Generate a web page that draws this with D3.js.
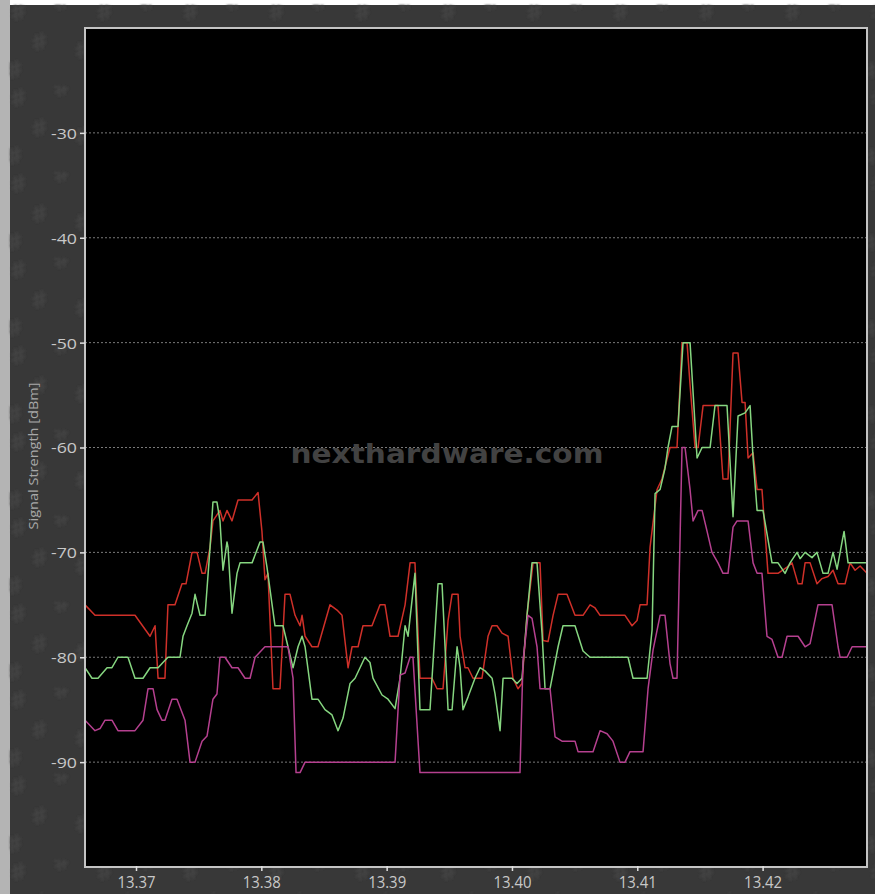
<!DOCTYPE html>
<html>
<head>
<meta charset="utf-8">
<script src="https://cdn.jsdelivr.net/npm/d3@7"></script>
<style>
  html, body { margin: 0; padding: 0; background: #ffffff; }
  svg { display: block; }
</style>
</head>
<body>
<svg id="chart" width="875" height="894"></svg>
<script>
// Frequency sweep, GHz vs. signal strength, dBm
const yTicks = [-30, -40, -50, -60, -70, -80, -90];
const xTicks = [13.37, 13.38, 13.39, 13.40, 13.41, 13.42];
const xTickLabels = ["13.37", "13.38", "13.39", "13.40", "13.41", "13.42"];
const yTitle = "Signal Strength [dBm]";
const watermark = "nexthardware.com";

// [frequency (GHz), signal (dBm)]
const redTrace = [
  [13.36593,-75],[13.36673,-76],[13.36992,-76],[13.37112,-78],[13.37152,-77],[13.37176,-82],
  [13.37231,-82],[13.37255,-75],[13.37311,-75],[13.37367,-73],[13.37399,-73],[13.37447,-70],
  [13.37487,-70],[13.37527,-72],[13.37551,-72],[13.37591,-69.5],[13.37614,-67],[13.37670,-66],
  [13.37694,-67],[13.37726,-66],[13.37766,-67],[13.37814,-65],[13.37926,-65],[13.37974,-64.3],
  [13.38005,-68],[13.38029,-72.6],[13.38053,-72],[13.38093,-83],[13.38149,-83],[13.38189,-74],
  [13.38229,-74],[13.38269,-76],[13.38309,-77],[13.38325,-76],[13.38349,-78],[13.38404,-79],
  [13.38452,-79],[13.38548,-75],[13.38604,-75.5],[13.38644,-76],[13.38692,-81],[13.38724,-79],
  [13.38772,-79],[13.38811,-77],[13.38883,-77],[13.38947,-75],[13.38987,-75],[13.39027,-78],
  [13.39091,-78],[13.39147,-75],[13.39187,-71],[13.39226,-71],[13.39266,-82],[13.39362,-82],
  [13.39402,-83],[13.39450,-83],[13.39490,-76.5],[13.39522,-74],[13.39570,-74],[13.39586,-78],
  [13.39625,-81],[13.39649,-81],[13.39689,-82],[13.39761,-82],[13.39809,-78],[13.39841,-77],
  [13.39881,-77],[13.39921,-77.7],[13.39969,-78],[13.40008,-82],[13.40048,-83],[13.40080,-82.5],
  [13.40120,-76],[13.40168,-71],[13.40224,-71],[13.40248,-78.4],[13.40288,-78.5],[13.40328,-76],
  [13.40368,-74],[13.40439,-74],[13.40503,-76],[13.40567,-76],[13.40623,-75],[13.40663,-75.3],
  [13.40703,-76],[13.40902,-76],[13.40958,-77],[13.40998,-76.5],[13.41022,-75],[13.41078,-75],
  [13.41102,-69.5],[13.41158,-64],[13.41197,-63],[13.41261,-60],[13.41317,-60],[13.41357,-50],
  [13.41397,-50],[13.41421,-54],[13.41461,-60],[13.41485,-60],[13.41525,-56],[13.41644,-56],
  [13.41684,-63],[13.41724,-63],[13.41764,-51],[13.41804,-51],[13.41836,-55.7],[13.41860,-55.7],
  [13.41884,-61],[13.41924,-60.5],[13.41956,-64],[13.41995,-64],[13.42019,-68],[13.42043,-72],
  [13.42123,-72],[13.42195,-71.4],[13.42235,-71],[13.42283,-73],[13.42315,-73],[13.42339,-71],
  [13.42379,-71],[13.42434,-73],[13.42474,-72.5],[13.42522,-72.3],[13.42562,-71.7],[13.42602,-73],
  [13.42658,-73],[13.42698,-71],[13.42738,-71.7],[13.42778,-71.3],[13.42833,-72]
];

const greenTrace = [
  [13.36593,-81],[13.36649,-82],[13.36697,-82],[13.36769,-81],[13.36808,-81],[13.36856,-80],
  [13.36936,-80],[13.36992,-82],[13.37056,-82],[13.37112,-81],[13.37176,-81],[13.37215,-80.5],
  [13.37255,-80],[13.37351,-80],[13.37375,-78],[13.37407,-77],[13.37447,-75.8],[13.37471,-74],
  [13.37511,-76],[13.37551,-76],[13.37591,-69.5],[13.37614,-65.2],[13.37646,-65.2],[13.37670,-67],
  [13.37694,-71.7],[13.37726,-69],[13.37734,-69.5],[13.37766,-75.8],[13.37806,-72],[13.37830,-71],
  [13.37926,-71],[13.37990,-69],[13.38013,-69],[13.38045,-71.4],[13.38109,-77],[13.38173,-77],
  [13.38213,-79],[13.38253,-81],[13.38293,-79],[13.38325,-78],[13.38349,-79],[13.38404,-84],
  [13.38452,-84],[13.38508,-85],[13.38564,-85.5],[13.38612,-87],[13.38652,-85.8],[13.38708,-82.5],
  [13.38748,-82],[13.38827,-80],[13.38867,-80.5],[13.38891,-82],[13.38963,-83.6],[13.39011,-84],
  [13.39067,-84.9],[13.39107,-82],[13.39147,-77],[13.39171,-78],[13.39226,-72],[13.39266,-85],
  [13.39346,-85],[13.39410,-73],[13.39442,-73],[13.39490,-85],[13.39522,-85],[13.39562,-79],
  [13.39586,-81],[13.39609,-85],[13.39649,-83.8],[13.39705,-82],[13.39745,-81],[13.39785,-81.3],
  [13.39841,-82],[13.39865,-83.5],[13.39905,-87],[13.39929,-82],[13.40000,-82],[13.40040,-82.5],
  [13.40080,-82],[13.40120,-76],[13.40160,-71],[13.40200,-71],[13.40240,-77.7],[13.40264,-83],
  [13.40304,-83],[13.40368,-79],[13.40407,-77],[13.40503,-77],[13.40567,-79.4],[13.40623,-80],
  [13.40926,-80],[13.40966,-82],[13.41078,-82],[13.41118,-77.4],[13.41142,-64.4],[13.41182,-64],
  [13.41221,-62],[13.41245,-60],[13.41277,-58],[13.41325,-58],[13.41365,-50],[13.41421,-50],
  [13.41477,-61],[13.41517,-60],[13.41581,-60],[13.41620,-56],[13.41716,-56],[13.41764,-66.6],
  [13.41804,-57],[13.41860,-56.7],[13.41900,-56],[13.41924,-61],[13.41956,-66],[13.42003,-66],
  [13.42075,-71],[13.42123,-71],[13.42179,-72],[13.42219,-71],[13.42275,-70],[13.42299,-70.6],
  [13.42339,-70],[13.42394,-70.5],[13.42434,-70],[13.42482,-72],[13.42522,-72],[13.42562,-70],
  [13.42594,-71.6],[13.42634,-69],[13.42650,-68],[13.42682,-71],[13.42833,-71]
];

const magentaTrace = [
  [13.36593,-86],[13.36673,-87],[13.36713,-86.8],[13.36753,-86],[13.36808,-86],[13.36856,-87],
  [13.36992,-87],[13.37056,-86],[13.37096,-83],[13.37136,-83],[13.37168,-85],[13.37207,-86],
  [13.37231,-86],[13.37287,-84],[13.37327,-84],[13.37391,-86],[13.37431,-90],[13.37471,-90],
  [13.37527,-88],[13.37567,-87.5],[13.37614,-84],[13.37646,-83.5],[13.37670,-80],[13.37710,-80],
  [13.37766,-81],[13.37814,-81],[13.37870,-82],[13.37910,-82],[13.37950,-80],[13.38029,-79],
  [13.38213,-79],[13.38253,-82],[13.38277,-91],[13.38309,-91],[13.38349,-90],[13.39067,-90],
  [13.39107,-81.7],[13.39147,-81.5],[13.39187,-80],[13.39210,-80],[13.39266,-91],[13.40064,-91],
  [13.40088,-80.4],[13.40128,-76],[13.40160,-76.3],[13.40200,-79],[13.40224,-83],[13.40304,-83],
  [13.40344,-87.6],[13.40399,-88],[13.40503,-88],[13.40527,-89],[13.40647,-89],[13.40703,-87],
  [13.40759,-87.3],[13.40806,-88],[13.40862,-90],[13.40902,-90],[13.40942,-89],[13.41046,-89],
  [13.41086,-83],[13.41126,-79.3],[13.41182,-76],[13.41221,-76],[13.41261,-80.6],[13.41285,-82],
  [13.41317,-82],[13.41357,-60],[13.41381,-60],[13.41421,-64],[13.41445,-67],[13.41485,-66],
  [13.41517,-66],[13.41557,-68],[13.41596,-70],[13.41644,-71],[13.41684,-72],[13.41724,-72],
  [13.41764,-67.6],[13.41796,-67],[13.41884,-67],[13.41924,-71],[13.41956,-72],[13.41995,-72],
  [13.42035,-78],[13.42075,-78.3],[13.42123,-80],[13.42155,-80],[13.42195,-78],[13.42283,-78],
  [13.42339,-79],[13.42379,-78.7],[13.42442,-75],[13.42554,-75],[13.42602,-79],[13.42618,-80],
  [13.42674,-80],[13.42714,-79],[13.42833,-79]
];

const series = [
  { name: "red", data: redTrace, color: "#cf3029" },
  { name: "green", data: greenTrace, color: "#86d680" },
  { name: "magenta", data: magentaTrace, color: "#b5408f" }
];

const W = 875, H = 894;
const plot = { left: 85, top: 28, right: 867, bottom: 867 };

const svg = d3.select("#chart");

// backdrop: light edge strip + dark panel with faint hash texture
const defs = svg.append("defs");
defs.append("filter").attr("id", "soft")
  .append("feGaussianBlur").attr("stdDeviation", 1.2);
const pat = defs.append("pattern")
  .attr("id", "hashTex")
  .attr("patternUnits", "userSpaceOnUse")
  .attr("width", 86).attr("height", 86);
const glyphs = [[12, 22], [55, 12], [33, 52], [76, 60], [8, 80]];
glyphs.forEach(([gx, gy]) => {
  pat.append("text")
    .attr("x", gx).attr("y", gy)
    .attr("transform", `rotate(-18 ${gx} ${gy})`)
    .attr("font-family", "DejaVu Sans, sans-serif")
    .attr("font-size", 22)
    .attr("font-weight", "bold")
    .attr("fill", "#434343")
    .text("#");
});

svg.append("rect").attr("x", 0).attr("y", 0).attr("width", W).attr("height", H).attr("fill", "#ffffff");
svg.append("rect").attr("x", 0).attr("y", 0).attr("width", 10).attr("height", H).attr("fill", "#b4b4b4");
svg.append("rect").attr("x", 10).attr("y", 5).attr("width", W - 10).attr("height", H - 5).attr("fill", "#383838");
svg.append("rect").attr("x", 10).attr("y", 5).attr("width", W - 10).attr("height", H - 5)
  .attr("fill", "url(#hashTex)").attr("filter", "url(#soft)");

const x = d3.scaleLinear().domain([13.36593, 13.42833]).range([plot.left, plot.right]);
const y = d3.scaleLinear().domain([-100, -20]).range([plot.bottom, plot.top]);

// plot area
svg.append("rect")
  .attr("x", plot.left).attr("y", plot.top)
  .attr("width", plot.right - plot.left).attr("height", plot.bottom - plot.top)
  .attr("fill", "#000000");

// dotted gridlines
svg.append("g").selectAll("line").data(yTicks).join("line")
  .attr("x1", plot.left).attr("x2", plot.right)
  .attr("y1", d => y(d)).attr("y2", d => y(d))
  .attr("stroke", "#7a7a7a")
  .attr("stroke-width", 1)
  .attr("stroke-dasharray", "2,2");

// traces
const clip = defs.append("clipPath").attr("id", "plotClip");
clip.append("rect").attr("x", plot.left).attr("y", plot.top)
  .attr("width", plot.right - plot.left).attr("height", plot.bottom - plot.top);

const line = d3.line().x(d => x(d[0])).y(d => y(d[1]));
svg.append("g").attr("clip-path", "url(#plotClip)")
  .selectAll("path").data(series).join("path")
  .attr("d", d => line(d.data))
  .attr("fill", "none")
  .attr("stroke", d => d.color)
  .attr("stroke-width", 1.5)
  .attr("stroke-linejoin", "round");

// watermark
svg.append("text")
  .attr("x", 447).attr("y", 463)
  .attr("text-anchor", "middle")
  .attr("font-family", "DejaVu Sans, sans-serif")
  .attr("font-weight", "bold")
  .attr("font-size", 27)
  .attr("textLength", 313)
  .attr("lengthAdjust", "spacingAndGlyphs")
  .attr("fill", "#424242")
  .text(watermark);

// frame
svg.append("rect")
  .attr("x", plot.left).attr("y", plot.top)
  .attr("width", plot.right - plot.left).attr("height", plot.bottom - plot.top)
  .attr("fill", "none")
  .attr("stroke", "#c4c4c4")
  .attr("stroke-width", 2);

// y axis
const yAxis = d3.axisLeft(y).tickValues(yTicks).tickSize(5).tickFormat(d3.format("d"));
const gy = svg.append("g").attr("transform", `translate(${plot.left},0)`).call(yAxis);
gy.select(".domain").remove();
gy.selectAll(".tick line").attr("stroke", "#e0e0e0").attr("stroke-width", 1.5);
gy.selectAll(".tick text")
  .attr("x", -8)
  .attr("dy", "0.36em")
  .attr("fill", "#c8c8c8")
  .attr("font-family", "Open Sans, sans-serif")
  .attr("font-size", 15)
  .attr("textLength", 26)
  .attr("lengthAdjust", "spacingAndGlyphs")
  .text(d => d3.format("d")(d).replace("−", "-"));

// x axis
const xAxis = d3.axisBottom(x).tickValues(xTicks).tickSize(5)
  .tickFormat((d, i) => xTickLabels[i]);
const gx = svg.append("g").attr("transform", `translate(0,${plot.bottom - 1})`).call(xAxis);
gx.select(".domain").remove();
gx.selectAll(".tick line").attr("stroke", "#e0e0e0").attr("stroke-width", 1.5);
gx.selectAll(".tick text")
  .attr("y", 22)
  .attr("dy", 0)
  .attr("fill", "#c8c8c8")
  .attr("font-family", "Open Sans, sans-serif")
  .attr("font-size", 16)
  .attr("textLength", 38)
  .attr("lengthAdjust", "spacingAndGlyphs");

// y title
svg.append("text")
  .attr("transform", "translate(38,456) rotate(-90)")
  .attr("text-anchor", "middle")
  .attr("font-family", "Open Sans, sans-serif")
  .attr("font-size", 13)
  .attr("textLength", 147)
  .attr("lengthAdjust", "spacingAndGlyphs")
  .attr("fill", "#a8a8a8")
  .text(yTitle);
</script>
</body>
</html>
